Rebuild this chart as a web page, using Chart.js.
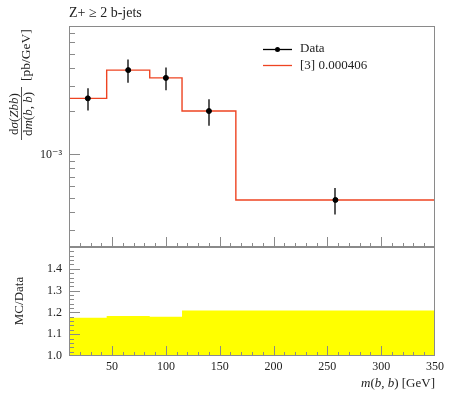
<!DOCTYPE html>
<html>
<head>
<meta charset="utf-8">
<script src="https://cdn.jsdelivr.net/npm/chart.js@4.4.0/dist/chart.umd.min.js"></script>
<style>
  html, body { margin: 0; padding: 0; background: #fff; }
  #wrap { position: relative; width: 450px; height: 393px; }
  #wrap canvas { position: absolute; left: 0; }
  #main { top: 0; }
  #ratio { top: 240px; }
</style>
</head>
<body>
<div id="wrap">
  <canvas id="main" width="450" height="248"></canvas>
  <canvas id="ratio" width="450" height="153"></canvas>
</div>
<script>
// m(b,b) bins and measured cross section
const binEdges = [10, 45, 85, 115, 165, 350];
const dataValues = [2.45e-3, 3.85e-3, 3.40e-3, 2.00e-3, 4.82e-4];
const dataRelErr = [0.176, 0.183, 0.180, 0.209, 0.209];
const mcValues = [2.45e-3, 3.85e-3, 3.40e-3, 2.00e-3, 4.82e-4];

const xTicks = [50, 100, 150, 200, 250, 300, 350];
const yTickLabels = [1e-3];
const ratioTicks = [1.0, 1.1, 1.2, 1.3, 1.4];

const FONT = "'Liberation Serif', 'DejaVu Serif', serif";
const FRAME = '#8a8a8a';
const RED = '#ee4422';

const binCenters = binEdges.slice(0, -1).map((e, i) => (e + binEdges[i + 1]) / 2);
const stepPts = vals => binEdges.map((e, i) => ({ x: e, y: vals[Math.min(i, vals.length - 1)] }));

const sup = { '-': '⁻', '0': '⁰', '1': '¹', '2': '²', '3': '³', '4': '⁴', '5': '⁵', '6': '⁶', '7': '⁷', '8': '⁸', '9': '⁹' };
const powLabel = v => '10' + String(Math.round(Math.log10(v))).split('').map(c => sup[c]).join('');

// fixed axis size, and no extra label padding so the plot box lands where we want it
const fixY = w => s => { s.width = w; s.paddingTop = 0; s.paddingBottom = 0; };
const fixX = h => s => { s.height = h; s.paddingLeft = 0; s.paddingRight = 0; };

// text with mixed upright / italic pieces
function richText(ctx, parts, x, y, size, align) {
  const fnt = it => (it ? 'italic ' : '') + size + 'px ' + FONT;
  let w = 0;
  parts.forEach(p => { ctx.font = fnt(p[1]); w += ctx.measureText(p[0]).width; });
  let cx = align === 'right' ? x - w : align === 'center' ? x - w / 2 : x;
  ctx.textAlign = 'left';
  parts.forEach(p => {
    ctx.font = fnt(p[1]);
    ctx.fillText(p[0], cx, y);
    cx += ctx.measureText(p[0]).width;
  });
  return w;
}

function drawFrame(ctx, a) {
  ctx.save();
  ctx.strokeStyle = FRAME;
  ctx.lineWidth = 1;
  ctx.strokeRect(Math.round(a.left) + 0.5, Math.round(a.top) + 0.5,
    Math.round(a.right - a.left) - 1, Math.round(a.bottom - a.top) - 1);
  ctx.restore();
}

function xInnerTicks(ctx, chart) {
  const xs = chart.scales.x, a = chart.chartArea;
  ctx.save();
  ctx.strokeStyle = FRAME;
  ctx.lineWidth = 1;
  ctx.beginPath();
  for (let v = 20; v < 350; v += 10) {
    const px = Math.round(xs.getPixelForValue(v)) + 0.5;
    const len = v % 50 === 0 ? 10 : 4;
    ctx.moveTo(px, a.bottom);
    ctx.lineTo(px, a.bottom - len);
  }
  ctx.stroke();
  ctx.restore();
}

const mainPlugin = {
  id: 'mainDeco',
  afterDatasetsDraw(chart) {
    const ctx = chart.ctx, a = chart.chartArea;
    const xs = chart.scales.x, ys = chart.scales.y;

    // error bars
    ctx.save();
    ctx.strokeStyle = '#000';
    ctx.lineWidth = 1.3;
    ctx.beginPath();
    binCenters.forEach((c, i) => {
      const px = Math.round(xs.getPixelForValue(c));
      ctx.moveTo(px, ys.getPixelForValue(dataValues[i] * (1 + dataRelErr[i])));
      ctx.lineTo(px, ys.getPixelForValue(dataValues[i] * (1 - dataRelErr[i])));
    });
    ctx.stroke();
    ctx.restore();

    drawFrame(ctx, a);
    xInnerTicks(ctx, chart);

    // log y ticks, inward
    ctx.save();
    ctx.strokeStyle = FRAME;
    ctx.beginPath();
    for (let k = -5; k <= -2; k++) {
      for (let m = 1; m <= 9; m++) {
        const v = m * Math.pow(10, k);
        if (v <= ys.min || v >= ys.max) continue;
        const py = Math.round(ys.getPixelForValue(v)) + 0.5;
        ctx.moveTo(a.left, py);
        ctx.lineTo(a.left + (m === 1 ? 11 : 6), py);
      }
    }
    ctx.stroke();
    ctx.restore();

    // title
    ctx.save();
    ctx.fillStyle = '#222';
    ctx.textBaseline = 'alphabetic';
    ctx.font = '14px ' + FONT;
    ctx.fillText('Z+ ≥ 2 b-jets', a.left, 17);

    // legend
    ctx.strokeStyle = '#000';
    ctx.lineWidth = 1.3;
    ctx.beginPath(); ctx.moveTo(263, 49.5); ctx.lineTo(292, 49.5); ctx.stroke();
    ctx.beginPath(); ctx.arc(277.5, 49.5, 2.5, 0, Math.PI * 2); ctx.fillStyle = '#000'; ctx.fill();
    ctx.strokeStyle = RED;
    ctx.beginPath(); ctx.moveTo(263, 65.5); ctx.lineTo(292, 65.5); ctx.stroke();
    ctx.fillStyle = '#222';
    ctx.textBaseline = 'middle';
    ctx.font = '13px ' + FONT;
    ctx.fillText('Data', 300, 49);
    ctx.fillText('[3] 0.000406', 300, 66);

    // y label: fraction + units, rotated
    ctx.translate(21, 140);
    ctx.rotate(-Math.PI / 2);
    ctx.textBaseline = 'alphabetic';
    ctx.fillStyle = '#222';
    richText(ctx, [['d', 0], ['σ', 1], ['(', 0], ['Zbb', 1], [')', 0]], 26, -3, 13, 'center');
    richText(ctx, [['d', 0], ['m', 1], ['(', 0], ['b', 1], [', ', 0], ['b', 1], [')', 0]], 26, 10.5, 13, 'center');
    ctx.strokeStyle = '#222';
    ctx.lineWidth = 0.8;
    ctx.beginPath(); ctx.moveTo(0, 0.5); ctx.lineTo(53, 0.5); ctx.stroke();
    ctx.font = '13.5px ' + FONT;
    ctx.textAlign = 'left';
    ctx.fillText('[pb/GeV]', 59, 8.5);
    ctx.restore();
  }
};

const ratioPlugin = {
  id: 'ratioDeco',
  afterDatasetsDraw(chart) {
    const ctx = chart.ctx, a = chart.chartArea;
    const ys = chart.scales.y;
    drawFrame(ctx, a);
    xInnerTicks(ctx, chart);

    ctx.save();
    ctx.strokeStyle = FRAME;
    ctx.beginPath();
    for (let i = 1; i < 25; i++) {
      const v = 1 + i * 0.02;
      const py = Math.round(ys.getPixelForValue(v)) + 0.5;
      ctx.moveTo(a.left, py);
      ctx.lineTo(a.left + (i % 5 === 0 ? 11 : 5), py);
    }
    ctx.stroke();

    ctx.fillStyle = '#222';
    ctx.textBaseline = 'middle';
    ctx.font = '13px ' + FONT;
    ctx.translate(20, 61);
    ctx.rotate(-Math.PI / 2);
    ctx.textAlign = 'center';
    ctx.fillText('MC/Data', 0, 0);
    ctx.restore();

    ctx.save();
    ctx.fillStyle = '#222';
    ctx.textBaseline = 'alphabetic';
    richText(ctx, [['m', 1], ['(', 0], ['b', 1], [', ', 0], ['b', 1], [')', 0], [' [GeV]', 0]], a.right, 147, 13, 'right');
    ctx.restore();
  }
};

const tickFont = { family: FONT, size: 12 };

new Chart(document.getElementById('main'), {
  type: 'line',
  data: {
    datasets: [
      {
        type: 'scatter',
        data: binCenters.map((c, i) => ({ x: c, y: dataValues[i] })),
        backgroundColor: '#000',
        borderColor: '#000',
        pointRadius: 2.5,
        order: 1
      },
      {
        data: stepPts(mcValues),
        stepped: 'before',
        borderColor: RED,
        borderWidth: 1.4,
        pointRadius: 0,
        fill: false,
        order: 2
      }
    ]
  },
  options: {
    responsive: false,
    animation: false,
    layout: { autoPadding: false, padding: { top: 26, bottom: 1, left: 0, right: 15 } },
    plugins: { legend: { display: false }, tooltip: { enabled: false } },
    scales: {
      x: { type: 'linear', min: 10, max: 350, display: false, afterFit: fixX(0) },
      y: {
        type: 'logarithmic',
        min: 2.27e-4,
        max: 7.8e-3,
        grid: { display: false, drawTicks: false },
        border: { display: false },
        afterFit: fixY(69),
        afterBuildTicks: s => { s.ticks = yTickLabels.map(v => ({ value: v, major: true })); },
        ticks: { font: tickFont, color: '#222', padding: 7, callback: v => powLabel(v) }
      }
    }
  },
  plugins: [mainPlugin]
});

new Chart(document.getElementById('ratio'), {
  type: 'line',
  data: {
    datasets: [
      {
        data: stepPts(dataRelErr.map(e => 1 + e)),
        stepped: 'before',
        borderWidth: 0,
        pointRadius: 0,
        backgroundColor: '#ffff00',
        fill: '+1'
      },
      {
        data: stepPts(dataRelErr.map(e => 1 - e)),
        stepped: 'before',
        borderWidth: 0,
        pointRadius: 0,
        fill: false
      },
      {
        data: stepPts(mcValues.map((m, i) => m / dataValues[i])),
        stepped: 'before',
        borderColor: RED,
        borderWidth: 1.4,
        pointRadius: 0,
        fill: false
      }
    ]
  },
  options: {
    responsive: false,
    animation: false,
    layout: { autoPadding: false, padding: { top: 7, bottom: 0, left: 0, right: 15 } },
    plugins: { legend: { display: false }, tooltip: { enabled: false } },
    scales: {
      x: {
        type: 'linear',
        min: 10,
        max: 350,
        grid: { display: false, drawTicks: false },
        border: { display: false },
        afterFit: fixX(37),
        afterBuildTicks: s => { s.ticks = xTicks.map(v => ({ value: v })); },
        ticks: { font: tickFont, color: '#222', padding: 4, maxRotation: 0 }
      },
      y: {
        min: 1.0,
        max: 1.5,
        grid: { display: false, drawTicks: false },
        border: { display: false },
        afterFit: fixY(69),
        afterBuildTicks: s => { s.ticks = ratioTicks.map(v => ({ value: v })); },
        ticks: { font: tickFont, color: '#222', padding: 7, callback: v => v.toFixed(1) }
      }
    }
  },
  plugins: [ratioPlugin]
});
</script>
</body>
</html>
